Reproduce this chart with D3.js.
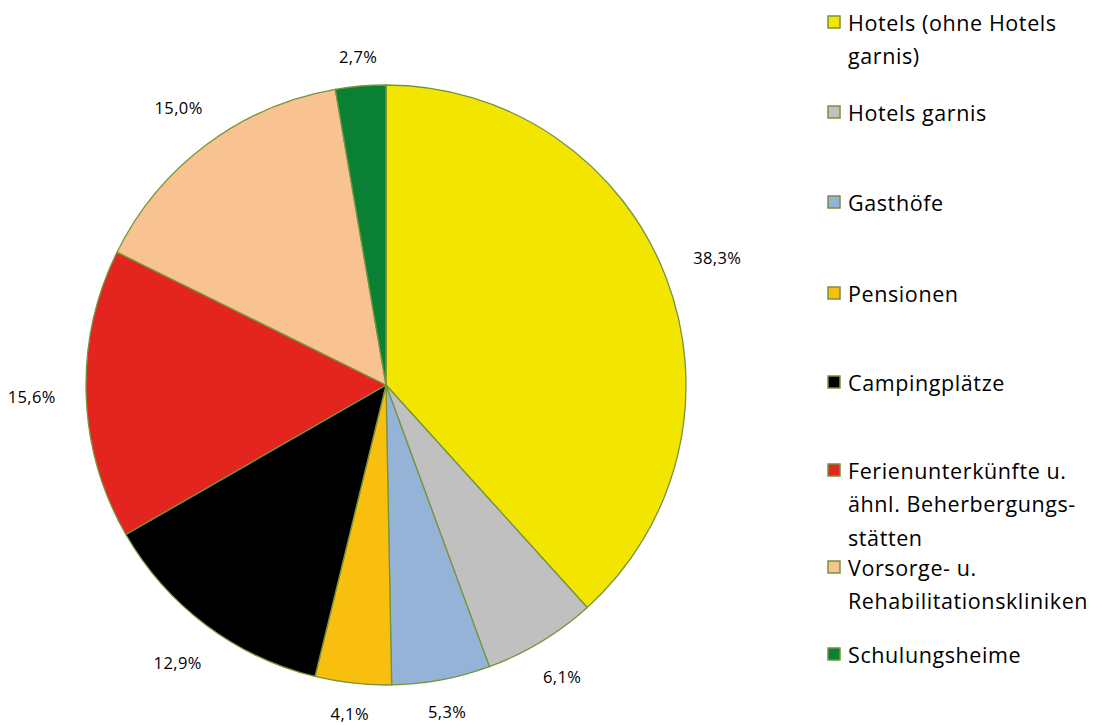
<!DOCTYPE html>
<html><head><meta charset="utf-8">
<script src="https://d3js.org/d3.v7.min.js"></script>
<style>body{margin:0;background:#fff}svg{display:block}</style>
</head><body>
<svg id="c" width="1102" height="725"></svg>
<script>
const categories = ["Hotels (ohne Hotels garnis)","Hotels garnis","Gasthöfe","Pensionen","Campingplätze","Ferienunterkünfte u. ähnl. Beherbergungs-stätten","Vorsorge- u. Rehabilitationskliniken","Schulungsheime"];
const values = [38.3, 6.1, 5.3, 4.1, 12.9, 15.6, 15.0, 2.7];
const valueLabels = ["38,3%","6,1%","5,3%","4,1%","12,9%","15,6%","15,0%","2,7%"];
const legendLines = [["Hotels (ohne Hotels","garnis)"],["Hotels garnis"],["Gasthöfe"],["Pensionen"],["Campingplätze"],["Ferienunterkünfte u.","ähnl. Beherbergungs-","stätten"],["Vorsorge- u.","Rehabilitationskliniken"],["Schulungsheime"]];
const colors = ["#F2E600","#C0C0C0","#95B3D7","#F9BF0E","#000000","#E3241F","#F8C291","#0A8035"];

const svg = d3.select("#c");
const font = "'Open Sans', sans-serif";
const cx = 386, cy = 385, R = 300;
const pie = d3.pie().sort(null).value(d => d)(values);
const arc = d3.arc().innerRadius(0).outerRadius(R);
const g = svg.append("g").attr("transform", `translate(${cx},${cy})`);
g.selectAll("path").data(pie).join("path")
  .attr("d", arc).attr("fill", (d,i) => colors[i])
  .attr("stroke", "#77933C").attr("stroke-width", 1.3);

const lab = g.selectAll("text").data(pie).join("text")
  .attr("font-family", font).attr("font-size", 16.5).attr("fill", "#000")
  .attr("letter-spacing", 0.4)
  .attr("text-anchor", "middle").attr("dominant-baseline", "central")
  .text((d,i) => valueLabels[i]);
lab.each(function(d){
  const a = (d.startAngle + d.endAngle)/2;
  const w = this.getComputedTextLength()/2, h = 9;
  const r = 318 + 1.5*w*Math.abs(Math.sin(a)) + h*Math.abs(Math.cos(a));
  d3.select(this).attr("x", r*Math.sin(a)).attr("y", -r*Math.cos(a));
});

const legendY = [22, 112, 202, 293, 382, 470, 567, 654];
const lg = svg.append("g");
categories.forEach((c,i) => {
  const y = legendY[i];
  lg.append("rect").attr("x", 828).attr("y", y-6).attr("width", 12).attr("height", 12)
    .attr("fill", colors[i]).attr("stroke", "#77933C").attr("stroke-width", 1.5);
  legendLines[i].forEach((t,j) => {
    lg.append("text").attr("x", 848).attr("y", y + j*33.5)
      .attr("dominant-baseline", "central").attr("letter-spacing", 0.6)
      .attr("font-family", font).attr("font-size", 21.5).attr("fill", "#000").text(t);
  });
});
</script>
</body></html>
